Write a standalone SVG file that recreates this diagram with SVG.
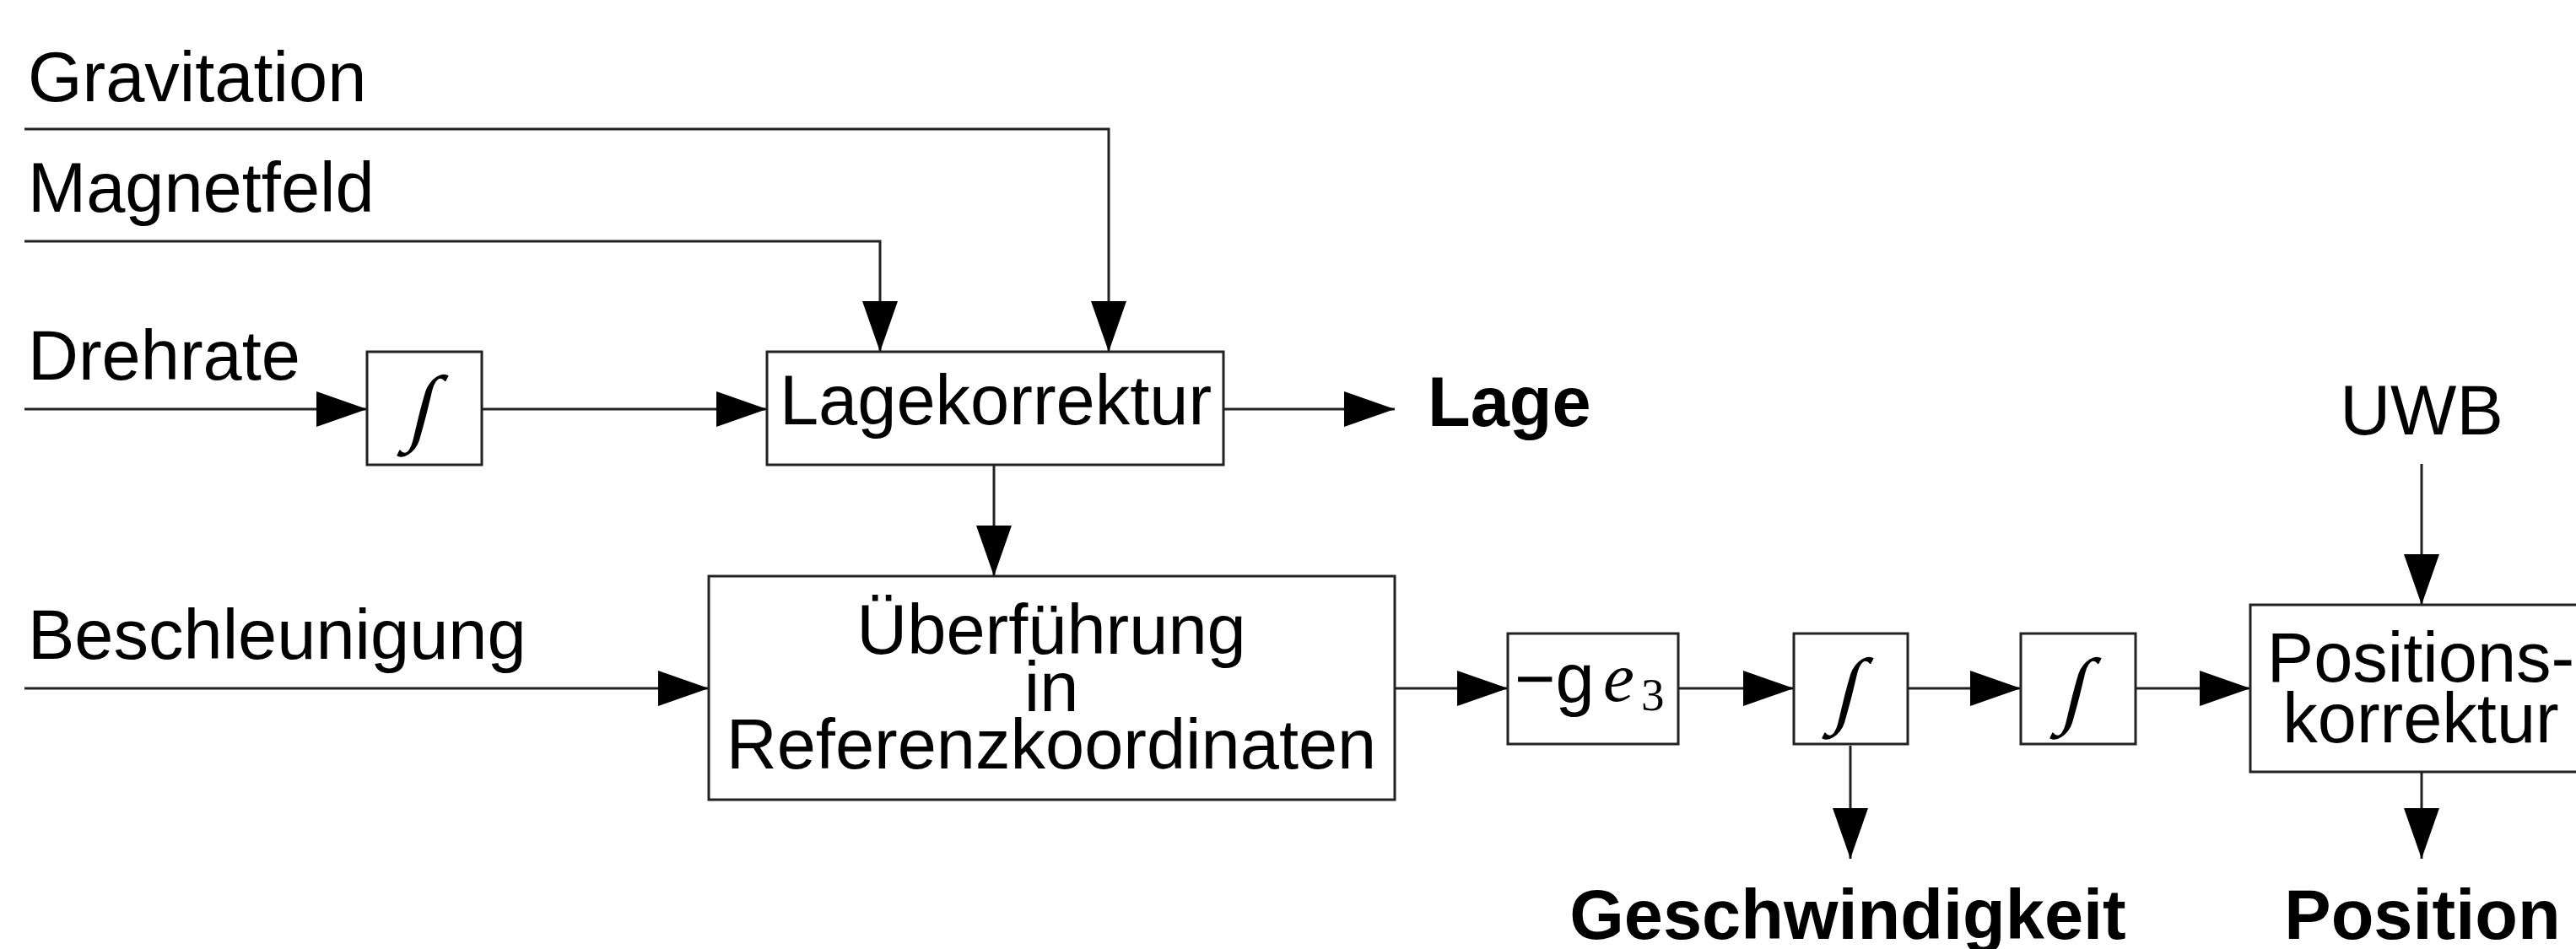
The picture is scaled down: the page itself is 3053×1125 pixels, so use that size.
<svg xmlns="http://www.w3.org/2000/svg" width="3053" height="1125" viewBox="0 0 3053 1125">
  <style>
    .lbl { font-family: "Liberation Sans", Arial, sans-serif; font-size: 83px; fill: #000; }
    .out { font-family: "Liberation Sans", Arial, sans-serif; font-size: 83px; font-weight: bold; fill: #000; }
    .mid { text-anchor: middle; }
    .box { fill: #fff; stroke: #222; stroke-width: 3; }
    .wire { fill: none; stroke: #222; stroke-width: 3; }
    .int { font-family: "Liberation Serif", "Times New Roman", serif; font-size: 100px; fill: #000; }
  </style>
  <defs>
    <marker id="head" markerUnits="userSpaceOnUse" markerWidth="60" markerHeight="42" refX="60" refY="21" orient="auto">
      <path d="M0,0 L60,21 L0,42 Z" fill="#000"/>
    </marker>
  </defs>
  <rect width="3053" height="1125" fill="#fff"/>

  <!-- signal inputs -->
  <text class="lbl" x="33" y="120">Gravitation</text>
  <text class="lbl" x="33" y="251">Magnetfeld</text>
  <text class="lbl" x="33" y="450">Drehrate</text>
  <text class="lbl" x="33" y="781">Beschleunigung</text>
  <text class="lbl mid" x="2870" y="515">UWB</text>

  <!-- connectors -->
  <g id="connectors">
    <path class="wire" d="M29,153 H1314 V417" marker-end="url(#head)"/>
    <path class="wire" d="M29,286 H1043 V417" marker-end="url(#head)"/>
    <path class="wire" d="M29,485 H435" marker-end="url(#head)"/>
    <path class="wire" d="M571,485 H909" marker-end="url(#head)"/>
    <path class="wire" d="M1450,485 H1653" marker-end="url(#head)"/>
    <path class="wire" d="M1178,551 V683" marker-end="url(#head)"/>
    <path class="wire" d="M29,816 H840" marker-end="url(#head)"/>
    <path class="wire" d="M1653,816 H1787" marker-end="url(#head)"/>
    <path class="wire" d="M1989,816 H2126" marker-end="url(#head)"/>
    <path class="wire" d="M2261,816 H2395" marker-end="url(#head)"/>
    <path class="wire" d="M2531,816 H2667" marker-end="url(#head)"/>
    <path class="wire" d="M2193,884 V1018" marker-end="url(#head)"/>
    <path class="wire" d="M2870,550 V717" marker-end="url(#head)"/>
    <path class="wire" d="M2870,915 V1018" marker-end="url(#head)"/>
  </g>

  <!-- integrator for the turn rate -->
  <g id="int-rate">
    <rect class="box" x="435" y="417" width="136" height="134"/>
    <text class="int mid" x="503" y="515" transform="translate(503,485) skewX(-14) translate(-503,-485)">∫</text>
  </g>

  <!-- attitude correction -->
  <g id="lagekorrektur">
    <rect class="box" x="909" y="417" width="541" height="134"/>
    <text class="lbl mid" x="1180" y="503">Lagekorrektur</text>
  </g>
  <text class="out" x="1692" y="505">Lage</text>

  <!-- transformation into reference frame -->
  <g id="ueberfuehrung">
    <rect class="box" x="840" y="683" width="813" height="265"/>
    <text class="lbl mid" x="1246" y="775">Überführung</text>
    <text class="lbl mid" x="1246" y="843">in</text>
    <text class="lbl mid" x="1246" y="911">Referenzkoordinaten</text>
  </g>

  <!-- gravity compensation -->
  <g id="gravity">
    <rect class="box" x="1787" y="751" width="202" height="131"/>
    <text class="lbl"><tspan x="1795" y="833">−g</tspan><tspan x="1900" y="831" font-family="Liberation Serif, serif" font-style="italic">e</tspan><tspan x="1945" y="842" font-family="Liberation Serif, serif" font-size="55">3</tspan></text>
  </g>

  <!-- velocity integrator -->
  <g id="int-vel">
    <rect class="box" x="2126" y="751" width="135" height="131"/>
    <text class="int mid" x="2193" y="850" transform="translate(2193,816) skewX(-14) translate(-2193,-816)">∫</text>
  </g>

  <!-- position integrator -->
  <g id="int-pos">
    <rect class="box" x="2395" y="751" width="136" height="131"/>
    <text class="int mid" x="2463" y="850" transform="translate(2463,816) skewX(-14) translate(-2463,-816)">∫</text>
  </g>

  <!-- position correction -->
  <g id="positionskorrektur">
    <rect class="box" x="2667" y="717" width="420" height="198"/>
    <text class="lbl mid" x="2869" y="808">Positions-</text>
    <text class="lbl mid" x="2869" y="880">korrektur</text>
  </g>

  <!-- outputs -->
  <text class="out mid" x="2190" y="1113">Geschwindigkeit</text>
  <text class="out mid" x="2871" y="1113" font-size="80">Position</text>
</svg>
